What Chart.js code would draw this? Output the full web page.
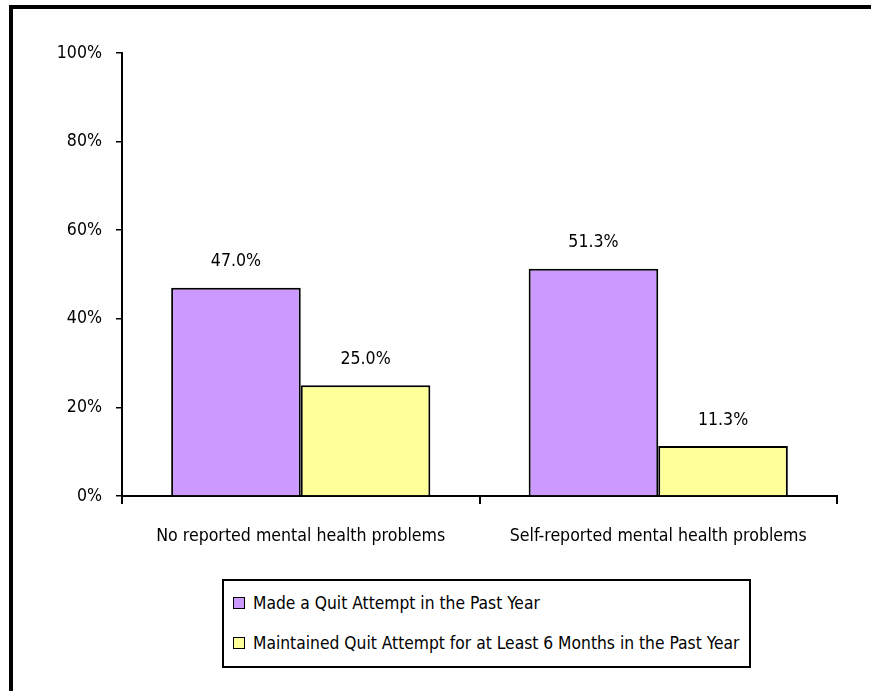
<!DOCTYPE html>
<html>
<head>
<meta charset="utf-8">
<script src="https://cdn.jsdelivr.net/npm/chart.js@4.4.0/dist/chart.umd.min.js"></script>
<style>
  body { margin: 0; background: #fff; width: 871px; height: 691px; overflow: hidden; position: relative; }
  #frame { position: absolute; left: 9px; top: 5px; width: 900px; height: 700px; border-top: 4px solid #000; border-left: 4px solid #000; }
  #wrap { position: absolute; left: 0; top: 0; width: 871px; height: 560px; }
  #legend { position: absolute; left: 222px; top: 579px; width: 529px; height: 89px; border: 2px solid #000; box-sizing: border-box;
    font-family: "DejaVu Sans Condensed", "Liberation Sans Narrow", sans-serif; font-size: 17.3px; color: #000; }
  .item { position: absolute; left: 9px; height: 24px; line-height: 24px; white-space: nowrap; }
  .sw { display: inline-block; width: 10px; height: 10px; border: 1.5px solid #000; vertical-align: middle; margin-right: 8px; position: relative; top: -1px; }
</style>
</head>
<body>
<div id="frame"></div>
<div id="wrap"><canvas id="myChart" width="871" height="560"></canvas></div>
<div id="legend"></div>
<script>
const categorias = ["No reported mental health problems", "Self-reported mental health problems"];
const serieNombres = ["Made a Quit Attempt in the Past Year", "Maintained Quit Attempt for at Least 6 Months in the Past Year"];
const intentoQuit = [47.0, 51.3];
const mantenido6m = [25.0, 11.3];
const colores = ["#CC99FF", "#FFFF99"];
const yTicks = [0, 20, 40, 60, 80, 100];

const fuente = "'DejaVu Sans Condensed', 'Liberation Sans Narrow', sans-serif";
const tam = 17.6;

// etiquetas encima de cada barra
const etiquetas = {
  id: "etiquetas",
  afterDatasetsDraw(chart) {
    const ctx = chart.ctx;
    ctx.save();
    ctx.font = tam + "px " + fuente;
    ctx.fillStyle = "#000";
    ctx.textAlign = "center";
    ctx.textBaseline = "middle";
    chart.data.datasets.forEach((ds, i) => {
      chart.getDatasetMeta(i).data.forEach((bar, j) => {
        ctx.fillText(ds.data[j].toFixed(1) + "%", bar.x, bar.y - 26);
      });
    });
    ctx.restore();
  },
};

const data = {
  labels: categorias,
  datasets: [
    { label: serieNombres[0], data: intentoQuit, backgroundColor: colores[0], borderColor: "#000", borderWidth: 2 },
    { label: serieNombres[1], data: mantenido6m, backgroundColor: colores[1], borderColor: "#000", borderWidth: 2 },
  ],
};

const config = {
  type: "bar",
  data,
  options: {
    responsive: false,
    animation: false,
    categoryPercentage: 0.725,
    barPercentage: 1,
    layout: { padding: { top: 53, right: 34, left: 0, bottom: 0 } },
    plugins: { legend: { display: false }, tooltip: { enabled: false } },
    scales: {
      x: {
        grid: { display: true, offset: true, drawOnChartArea: false, drawTicks: true, tickLength: 8, color: "#000", lineWidth: 2 },
        border: { display: true, color: "#000", width: 2 },
        ticks: { color: "#000", font: { family: fuente, size: tam }, padding: 22, maxRotation: 0 },
        afterFit: (s) => { s.height = 64; },
      },
      y: {
        min: 0,
        max: 100,
        afterBuildTicks: (s) => { s.ticks = yTicks.map((v) => ({ value: v })); },
        grid: { display: true, drawOnChartArea: false, drawTicks: true, tickLength: 6, color: "#000", lineWidth: 1.5 },
        border: { display: true, color: "#000", width: 2 },
        ticks: { color: "#000", font: { family: fuente, size: tam }, padding: 14, callback: (v) => v + "%" },
        afterFit: (s) => { s.width = 122; },
      },
    },
  },
  plugins: [etiquetas],
};
var myChart = new Chart(document.getElementById("myChart"), config);

// leyenda en html con su caja
const leyenda = document.getElementById("legend");
serieNombres.forEach((nombre, i) => {
  leyenda.innerHTML += `<div class="item" style="top:${10 + i * 40}px"><span class="sw" style="background:${colores[i]}"></span>${nombre}</div>`;
});
</script>
</body>
</html>
